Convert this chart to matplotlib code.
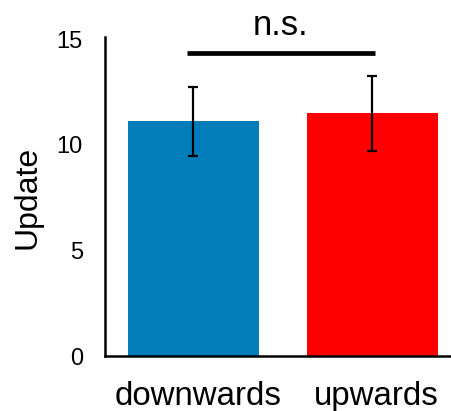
import matplotlib
matplotlib.use("Agg")
import matplotlib.pyplot as plt
import matplotlib.transforms as mtransforms

categories = ["downwards", "upwards"]
values = [11.12, 11.5]
err_low = [9.48, 9.70]
err_high = [12.74, 13.25]
colors = ["#037CBA", "#FF0000"]
y_ticks = [0, 5, 10, 15]
sig_label = "n.s."
sig_y = 14.32

plt.rcParams['font.family'] = ['Liberation Sans', 'DejaVu Sans']

fig = plt.figure(figsize=(4.51, 4.11), dpi=100)
W, H = 451, 411
ax = fig.add_axes([105 / W, 1 - 356 / H, (451 - 105) / W, (356 - 39) / H])

x = list(range(len(categories)))
yerr = [[v - lo for v, lo in zip(values, err_low)],
        [hi - v for v, hi in zip(values, err_high)]]
ax.bar(x, values, width=0.732, color=colors, zorder=2)
ax.errorbar(x, values, yerr=yerr, fmt='none', ecolor='black',
            elinewidth=1.6, capsize=3.8, capthick=1.6, zorder=3)

ax.set_xlim(-0.494, 1.44)
ax.set_ylim(0, 15)
ax.set_yticks(y_ticks)
ax.set_xticks(x)
ax.set_xticklabels(categories, fontsize=23.8)
ax.tick_params(axis='y', length=0, pad=16, labelsize=17)
ax.tick_params(axis='x', length=0, pad=18)
ax.set_ylabel("Update", fontsize=23, labelpad=10)

offset = mtransforms.ScaledTranslation(4.5 / 100, 0, fig.dpi_scale_trans)
for lbl in ax.get_xticklabels():
    lbl.set_transform(lbl.get_transform() + offset)

for s in ["top", "right"]:
    ax.spines[s].set_visible(False)
for s in ["left", "bottom"]:
    ax.spines[s].set_linewidth(1.8)
    ax.spines[s].set_color("black")
ax.spines["left"].set_bounds(0, 15.1)

ax.plot([-0.036, 1.014], [sig_y, sig_y], color='black', lw=3.4,
        solid_capstyle='butt', clip_on=False, zorder=4)
ax.text(0.489, sig_y + 0.55, sig_label, ha='center', va='bottom',
        fontsize=25, clip_on=False)

fig.savefig("out.png", dpi=100)
